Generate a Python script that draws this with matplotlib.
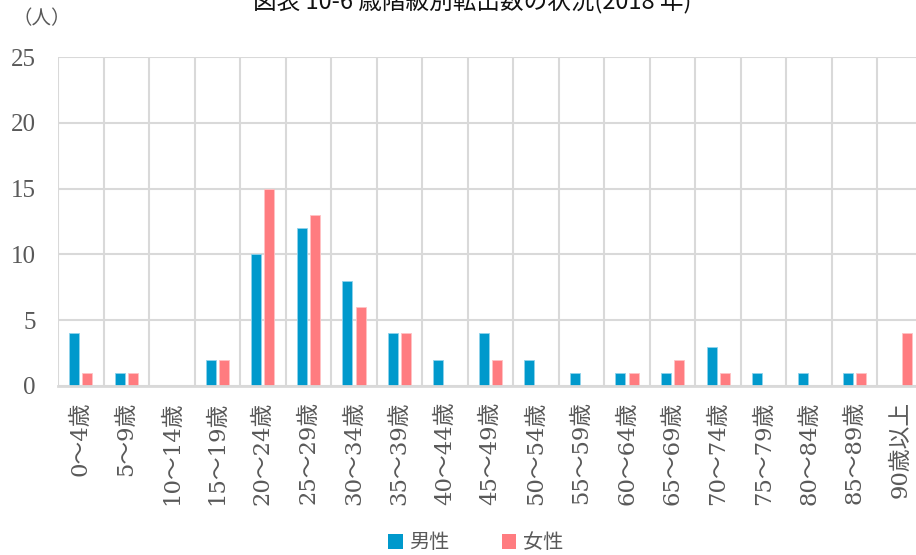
import matplotlib
matplotlib.use("Agg")
import matplotlib.pyplot as plt
import numpy as np
from matplotlib.patches import Patch

categories = ["0〜4歳", "5〜9歳", "10〜14歳", "15〜19歳", "20〜24歳", "25〜29歳",
              "30〜34歳", "35〜39歳", "40〜44歳", "45〜49歳", "50〜54歳", "55〜59歳",
              "60〜64歳", "65〜69歳", "70〜74歳", "75〜79歳", "80〜84歳", "85〜89歳",
              "90歳以上"]
male = [4, 1, 0, 2, 10, 12, 8, 4, 2, 4, 2, 1, 1, 1, 3, 1, 1, 1, 0]
female = [1, 1, 0, 2, 15, 13, 6, 4, 0, 2, 0, 0, 1, 2, 1, 0, 0, 1, 4]
yticks = [0, 5, 10, 15, 20, 25]
series_names = ["男性", "女性"]
title = "図表 10-6 歳階級別転出数の状況(2018 年)"

male_color = "#0099CC"
female_color = "#FF7C80"
grid_color = "#D9D9D9"
text_color = "#595959"
serif = ["Liberation Serif", "Noto Sans CJK JP"]
xserif = ["DejaVu Serif", "Noto Sans CJK JP"]
sans = ["Noto Sans CJK JP", "DejaVu Sans"]

fig = plt.figure(figsize=(9.16, 5.55), dpi=100)
ax = fig.add_axes([58/916, 169/555, 865/916, 329/555])

x = np.arange(len(categories))
w = 0.22
off = 0.145
ax.bar(x - off, male, width=w, color=male_color, edgecolor="#8FD3EC", linewidth=0.6, zorder=3)
ax.bar(x + off, female, width=w, color=female_color, edgecolor="#FFC2C4", linewidth=0.6, zorder=3)

ax.set_xlim(-0.5, len(categories) - 0.5)
ax.set_ylim(0, 25)
ax.set_yticks(yticks)
ax.set_yticklabels([str(v) for v in yticks], fontfamily=serif, fontsize=18, color=text_color)
ax.yaxis.grid(True, color=grid_color, linewidth=1.5, zorder=0)
for b in np.arange(-0.5, len(categories), 1.0):
    ax.axvline(b, color=grid_color, linewidth=1.5, zorder=0)

ax.set_xticks(x)
ax.set_xticklabels(categories, rotation=90, fontfamily=xserif, fontsize=16.4,
                   color=text_color, va="top", ha="center")
ax.tick_params(axis="both", length=0)
ax.tick_params(axis="x", pad=11)
ax.tick_params(axis="y", pad=16)
for s in ["top", "right", "left"]:
    ax.spines[s].set_visible(False)
ax.spines["bottom"].set_color(grid_color)
ax.spines["bottom"].set_linewidth(2)
ax.spines["bottom"].set_zorder(4)

fig.text(12/916, 1 - 19/555, "（人）", fontfamily=serif, fontsize=14, color=text_color,
         va="center", ha="left")
fig.text(472/916, 1 - 8/555, title, fontfamily=sans, fontsize=17,
         color="#111111", ha="center", va="baseline")

handles = [Patch(facecolor=male_color, edgecolor="none"),
           Patch(facecolor=female_color, edgecolor="none")]
leg = fig.legend(handles, series_names, loc="center", bbox_to_anchor=(476/916, 1 - 543/555),
                 ncol=2, frameon=False, prop={"family": sans, "size": 14.5},
                 handlelength=0.7, handleheight=0.7, handletextpad=0.35, columnspacing=2.6)
for t in leg.get_texts():
    t.set_color(text_color)

fig.savefig("out.png", dpi=100)
